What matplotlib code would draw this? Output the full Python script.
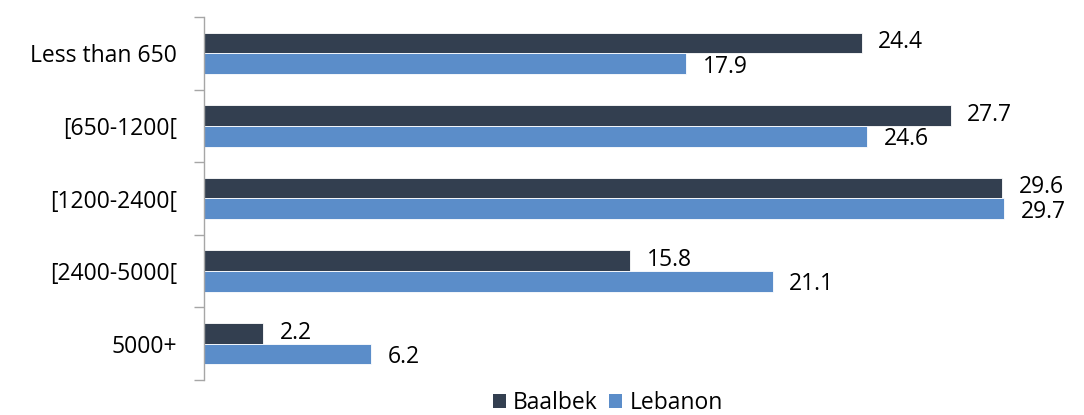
import matplotlib
matplotlib.use("Agg")
import matplotlib.pyplot as plt
import numpy as np
from matplotlib.patches import Patch

categories = ["Less than 650", "[650-1200[", "[1200-2400[", "[2400-5000[", "5000+"]
baalbek = [24.4, 27.7, 29.6, 15.8, 2.2]
lebanon = [17.9, 24.6, 29.7, 21.1, 6.2]
series_names = ["Baalbek", "Lebanon"]
colors = ["#333F50", "#5B8DC9"]

plt.rcParams['font.family'] = ['Open Sans', 'DejaVu Sans']
FS = 16.5

W, H = 1084, 415
fig = plt.figure(figsize=(W/100, H/100), dpi=100)
x0, x1 = 204, 204 + 32*26.95
y0, y1 = 17, 380
ax = fig.add_axes([x0/W, 1 - y1/H, (x1-x0)/W, (y1-y0)/H])

n = len(categories)
pos = np.arange(n)
bh = 0.285
ax.barh(pos - bh/2, baalbek, height=bh, color=colors[0], edgecolor="white", linewidth=0.6)
ax.barh(pos + bh/2, lebanon, height=bh, color=colors[1], edgecolor="white", linewidth=0.6)

for i in range(n):
    ax.text(baalbek[i] + 0.62, pos[i] - bh/2 - 0.01, f"{baalbek[i]:.1f}", va="center", ha="left", fontsize=FS, color="black")
    ax.text(lebanon[i] + 0.62, pos[i] + bh/2 + 0.04, f"{lebanon[i]:.1f}", va="center", ha="left", fontsize=FS, color="black")

ax.set_xlim(0, 32)
ax.set_ylim(n - 0.5, -0.5)
ax.set_yticks(pos)
ax.set_yticklabels(categories, fontsize=FS)
ax.set_yticks(np.arange(-0.5, n, 1), minor=True)
ax.tick_params(axis="y", which="major", length=0, pad=19.5)
ax.tick_params(axis="y", which="minor", length=7, color="#A6A6A6", width=1)
ax.set_xticks([])
for s in ["top", "right", "bottom"]:
    ax.spines[s].set_visible(False)
ax.spines["left"].set_color("#A6A6A6")
ax.spines["left"].set_linewidth(1)

handles = [Patch(facecolor=colors[0], label=series_names[0]), Patch(facecolor=colors[1], label=series_names[1])]
fig.legend(handles=handles, loc="center", bbox_to_anchor=(608/W, 1 - 403/H), ncol=2, frameon=False,
           fontsize=FS, handlelength=0.57, handleheight=0.57, handletextpad=0.3, columnspacing=0.5,
           borderpad=0)

fig.savefig("out.png", dpi=100)
